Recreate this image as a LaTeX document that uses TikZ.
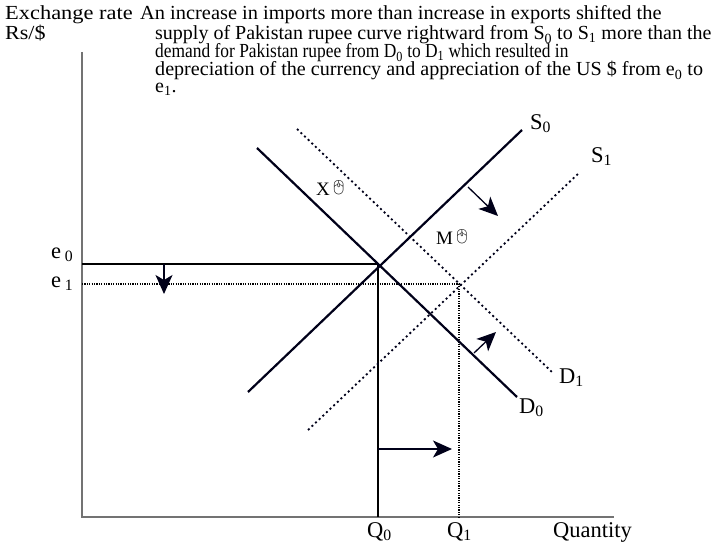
\documentclass[tikz,border=0pt]{standalone}
\usepackage{fontspec}
\setmainfont{Liberation Serif}
\newfontfamily\emojifont{Noto Emoji}
\usetikzlibrary{arrows.meta}
\begin{document}
\begin{tikzpicture}[x=1pt,y=-1pt,
  txt/.style={anchor=base west,inner sep=0pt,font=\fontsize{19}{18}\selectfont},
  lab/.style={anchor=base west,inner sep=0pt,font=\fontsize{22.5}{22}\selectfont},
  slab/.style={anchor=base west,inner sep=0pt,font=\fontsize{19}{19}\selectfont},
  axis/.style={draw=black!55,line width=1.4pt},
  curve/.style={draw=black!90!blue,line width=2.2pt},
  dcurve/.style={draw=black!90!blue,line width=1.8pt,dash pattern=on 2pt off 3pt},
  guide/.style={draw=black,line width=1.5pt},
  dguide/.style={draw=black,line width=1.3pt,dash pattern=on 1.2pt off 1.2pt},
  shiftarrow/.style={draw=black!90!blue,line width=1.3pt,-{Stealth[length=19pt,width=17pt,inset=5pt]}},
]
\useasboundingbox (0,0) rectangle (716,543);
% text
\node[txt] (t0) at (5,20) {\scalebox{1.18}[1.05]{Exchange rate}};
\node[txt] (t1) at (140,20) {\scalebox{1.074}[1.05]{An increase in imports more than increase in exports shifted the}};
\node[txt] (ry) at (5,40) {\scalebox{1.16}[1.05]{Rs/\$}};
\node[txt] (t2) at (155,40) {\scalebox{1.053}[1.05]{supply of Pakistan rupee curve rightward from S\textsubscript{0} to S\textsubscript{1} more than the}};
\node[txt] (t3) at (155,58) {\scalebox{0.916}[1.05]{demand for Pakistan rupee from D\textsubscript{0} to D\textsubscript{1} which resulted in}};
\node[txt] (t4) at (155,76) {\scalebox{1.058}[1.05]{depreciation of the currency and appreciation of the US \$ from e\textsubscript{0} to}};
\node[txt] (t5) at (155,93) {\scalebox{1.05}[1.05]{e\textsubscript{1}.}};
% axes
\coordinate (O) at (82,517);
\coordinate (ytop) at (82,52);
\coordinate (xend) at (614,517);
\draw[axis] (ytop) -- (O) -- (xend);
% curve endpoints
\coordinate (S0a) at (248,392);
\coordinate (S0b) at (522,130);
\coordinate (D0a) at (257,148);
\coordinate (D0b) at (517,397);
\coordinate (S1a) at (308,430);
\coordinate (S1b) at (580,172);
\coordinate (D1a) at (297,129);
\coordinate (D1b) at (553,373);
\coordinate (E0) at (378,264);
\coordinate (E1) at (459,284);
\coordinate (e0y) at (82,264);
\coordinate (e1y) at (82,284);
\coordinate (Q0x) at (378,517);
\coordinate (Q1x) at (459,517);
% guides
\draw[guide] (e0y) -- (E0) -- (Q0x);
\draw[dguide] (e1y) -- (E1) -- (Q1x);
% curves
\draw[dcurve] (D1a) -- (D1b);
\draw[dcurve] (S1a) -- (S1b);
\draw[curve] (D0a) -- (D0b);
\draw[curve] (S0a) -- (S0b);
% shift arrows
\coordinate (a1s) at (164,264);
\coordinate (a1e) at (164,294);
\draw[shiftarrow] (a1s) -- (a1e);
\coordinate (a2s) at (468,187);
\coordinate (a2e) at (498,216);
\draw[shiftarrow] (a2s) -- (a2e);
\coordinate (a3s) at (474,353);
\coordinate (a3e) at (496,332);
\draw[shiftarrow] (a3s) -- (a3e);
\coordinate (a4s) at (378,449);
\coordinate (a4e) at (452,449);
\draw[shiftarrow] (a4s) -- (a4e);
% labels
\node[lab] (le0) at (51,258) {e\,\textsubscript{0}};
\node[lab] (le1) at (51,287) {e\,\textsubscript{1}};
\node[lab] (lq0) at (367,537) {Q\textsubscript{0}};
\node[lab] (lq1) at (447,537) {Q\textsubscript{1}};
\node[lab] (lq) at (553,537) {Quantity};
\node[lab] (ls0) at (530,129) {S\textsubscript{0}};
\node[lab] (ls1) at (591,162) {S\textsubscript{1}};
\node[lab] (ld1) at (559,383) {D\textsubscript{1}};
\node[lab] (ld0) at (519,413) {D\textsubscript{0}};
\node[slab] (lx) at (316,196) {X\raisebox{3pt}{\emojifont\fontsize{14}{14}\selectfont 🖱}};
\node[slab] (lm) at (436,244) {M\raisebox{3pt}{\emojifont\fontsize{14}{14}\selectfont 🖱}};
\end{tikzpicture}
\end{document}
